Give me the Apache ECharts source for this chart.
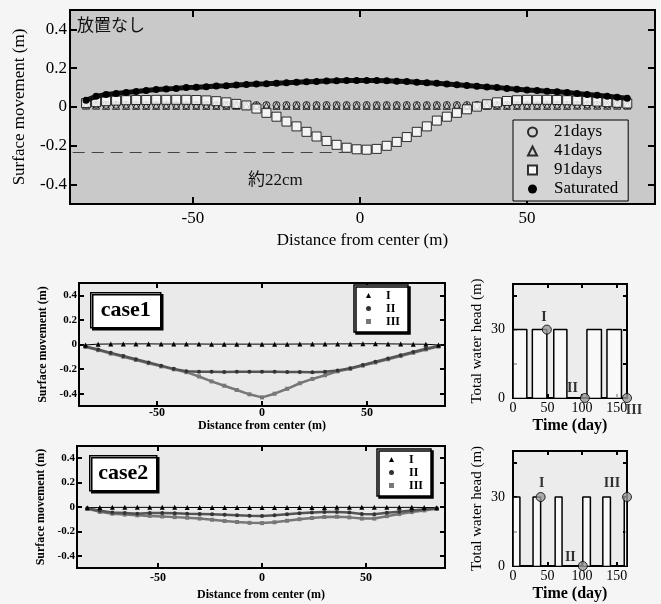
<!DOCTYPE html>
<html>
<head>
<meta charset="utf-8">
<title>Surface movement</title>
<script src="https://cdn.jsdelivr.net/npm/echarts@6/dist/echarts.min.js"></script>
<style>
html, body { margin: 0; padding: 0; background: #f5f5f5; }
#main { width: 661px; height: 604px; }
</style>
</head>
<body>
<div id="main"></div>
<script>
// ---- top panel (放置なし) : distance from center (m) / surface movement (m)
var distTop = [-82,-79,-76,-73,-70,-67,-64,-61,-58,-55,-52,
  -49,-46,-43,-40,-37,-34,-31,-28,-25,-22,-19,
  -16,-13,-10,-7,-4,-1,2,5,8,11,14,
  17,20,23,26,29,32,35,38,41,44,47,
  50,53,56,59,62,65,68,71,74,77,80];
var days21 = [0.012,0.012,0.011,0.011,0.011,0.010,0.010,0.010,0.010,0.010,0.010,
  0.010,0.010,0.010,0.010,0.010,0.010,0.010,0.010,0.010,0.010,0.010,
  0.010,0.010,0.010,0.010,0.010,0.010,0.010,0.010,0.010,0.010,0.010,
  0.010,0.010,0.010,0.010,0.010,0.010,0.010,0.010,0.010,0.010,0.010,
  0.010,0.010,0.011,0.011,0.011,0.011,0.012,0.012,0.012,0.012,0.012];
var days41 = [0.007,0.007,0.006,0.006,0.006,0.006,0.006,0.006,0.006,0.006,0.006,
  0.006,0.006,0.006,0.006,0.006,0.006,0.006,0.006,0.006,0.006,0.006,
  0.006,0.006,0.006,0.006,0.006,0.006,0.006,0.006,0.006,0.006,0.006,
  0.006,0.006,0.006,0.006,0.006,0.006,0.006,0.006,0.006,0.006,0.006,
  0.006,0.006,0.006,0.006,0.006,0.007,0.007,0.007,0.007,0.007,0.007];
var days91 = [0.020,0.025,0.030,0.033,0.035,0.036,0.036,0.037,0.037,0.037,0.037,
  0.036,0.034,0.030,0.024,0.016,0.008,-0.008,-0.030,-0.050,-0.075,-0.100,
  -0.128,-0.152,-0.175,-0.195,-0.210,-0.218,-0.220,-0.216,-0.200,-0.180,-0.155,
  -0.128,-0.100,-0.070,-0.050,-0.030,-0.012,0.002,0.014,0.024,0.031,0.035,
  0.037,0.037,0.037,0.036,0.035,0.033,0.031,0.028,0.025,0.022,0.018];
var saturated = [0.035,0.055,0.065,0.070,0.075,0.080,0.085,0.090,0.093,0.096,0.100,
  0.102,0.105,0.108,0.110,0.113,0.116,0.118,0.120,0.123,0.125,0.128,
  0.130,0.132,0.134,0.135,0.136,0.137,0.137,0.136,0.135,0.133,0.131,
  0.128,0.125,0.122,0.119,0.115,0.111,0.107,0.103,0.100,0.096,0.092,
  0.088,0.085,0.081,0.078,0.075,0.070,0.065,0.060,0.055,0.050,0.045];
var settleLevel = -0.235;   // 約22cm dashed line
var settleFrom = -86, settleTo = -3;

// ---- case1 / case2 panels
var distCase = [-84,-78,-72,-66,-60,-54,-48,-42,-36,-30,-24,-18,-12,-6,0,
  6,12,18,24,30,36,42,48,54,60,66,72,78,84];
var case1I = [-0.004,0.003,0.004,0.005,0.005,0.005,0.004,0.004,0.004,0.004,0.003,0.003,0.003,0.003,0.003,
  0.003,0.003,0.004,0.004,0.004,0.005,0.005,0.006,0.006,0.005,0.004,0.003,0.002,-0.004];
var case1II = [-0.015,-0.040,-0.068,-0.094,-0.120,-0.146,-0.172,-0.198,-0.218,-0.222,-0.222,-0.223,-0.222,-0.222,-0.222,
  -0.222,-0.223,-0.224,-0.225,-0.222,-0.212,-0.193,-0.167,-0.140,-0.114,-0.088,-0.061,-0.035,-0.012];
var case1III = [-0.020,-0.046,-0.074,-0.100,-0.126,-0.152,-0.178,-0.202,-0.225,-0.260,-0.300,-0.335,-0.370,-0.405,-0.430,
  -0.400,-0.360,-0.315,-0.280,-0.250,-0.218,-0.198,-0.172,-0.146,-0.120,-0.094,-0.067,-0.040,-0.017];
var case2I = [-0.006,-0.004,-0.003,-0.003,-0.003,-0.003,-0.003,-0.003,-0.004,-0.004,-0.004,-0.004,-0.004,-0.004,-0.004,
  -0.004,-0.004,-0.004,-0.004,-0.004,-0.003,-0.003,-0.003,-0.003,-0.003,-0.003,-0.003,-0.004,-0.006];
var case2II = [-0.010,-0.030,-0.045,-0.050,-0.055,-0.050,-0.050,-0.052,-0.055,-0.057,-0.060,-0.064,-0.068,-0.072,-0.073,
  -0.068,-0.060,-0.052,-0.046,-0.042,-0.040,-0.045,-0.058,-0.060,-0.048,-0.038,-0.028,-0.018,-0.010];
var case2III = [-0.015,-0.040,-0.055,-0.062,-0.068,-0.073,-0.078,-0.083,-0.088,-0.095,-0.105,-0.115,-0.123,-0.130,-0.132,
  -0.125,-0.113,-0.100,-0.090,-0.082,-0.080,-0.085,-0.095,-0.095,-0.075,-0.058,-0.042,-0.028,-0.015];

// ---- water head schedules (day ranges with 30 m head)
var headOn = 30;
var case1Periods = [[0,20],[28,49],[59,78],[107,128],[136,157]];
var case2Periods = [[0,10],[29,40],[61,71],[101,112],[130,141],[161,165]];
var case1Points = [[49,30,'I'],[104,0,'II'],[165,0,'III']];
var case2Points = [[40,30,'I'],[101,0,'II'],[165,30,'III']];

// ---- tick values
var distTicks = [-50,0,50];
var moveTicks = [-0.4,-0.2,0,0.2,0.4];
var timeLabels = [0,50,100,150];
var timeTicks = [50,100,150];
var headLabels = [0,30];
var headTicks = [15,30,45];

var serif = '"Liberation Serif", "DejaVu Serif", serif';
var jp = '"Noto Sans CJK JP", sans-serif';

function pairs(xs, ys) {
  return xs.map(function (x, i) { return [x, ys[i]]; });
}
function headLine(periods) {
  var d = [];
  periods.forEach(function (p) {
    d.push([p[0], 0], [p[0], headOn], [p[1], headOn], [p[1], 0]);
  });
  return d;
}

function mainAxis(dir, grid, min, max, o) {
  return {
    type: 'value', gridIndex: grid, min: min, max: max,
    position: dir === 'x' ? 'bottom' : 'left',
    name: o.name, nameLocation: 'middle', nameGap: o.nameGap,
    nameTextStyle: { fontFamily: serif, fontSize: o.nameSize, fontWeight: o.nameWeight || 'normal', color: '#000' },
    axisLine: { show: false, onZero: false },
    axisTick: { show: true, inside: true, length: o.tickLen, customValues: o.ticks, lineStyle: { color: '#000', width: 2 } },
    axisLabel: { customValues: o.labels, margin: o.margin, fontFamily: serif, fontSize: o.size,
      fontWeight: o.weight || 'normal', color: '#000' },
    splitLine: { show: false }
  };
}
function mirrorAxis(dir, grid, min, max, ticks, len) {
  return {
    type: 'value', gridIndex: grid, min: min, max: max,
    position: dir === 'x' ? 'top' : 'right',
    axisLine: { show: false, onZero: false }, axisLabel: { show: false }, splitLine: { show: false },
    axisTick: { show: true, inside: true, length: len, customValues: ticks, lineStyle: { color: '#000', width: 2 } }
  };
}

function pointSeries(points, axis, places) {
  return {
    type: 'scatter', xAxisIndex: axis, yAxisIndex: axis, clip: false, z: 5,
    symbol: 'circle', symbolSize: 9,
    itemStyle: { color: '#9a9a9a', borderColor: '#000', borderWidth: 1 },
    data: points.map(function (p, i) {
      return {
        value: [p[0], p[1]],
        label: {
          show: true, formatter: p[2], position: places[i].pos, offset: places[i].off, distance: 2,
          fontFamily: serif, fontSize: 14, fontWeight: 'bold', color: '#000'
        }
      };
    })
  };
}

var chart = echarts.init(document.getElementById('main'));

var option = {
  backgroundColor: '#f5f5f5',
  animation: false,
  grid: [
    { left: 70, top: 10, width: 585, height: 194, show: true, backgroundColor: '#c9c9c9', borderColor: '#000', borderWidth: 2 },
    { left: 79, top: 283, width: 366, height: 123, show: true, backgroundColor: '#eaeaea', borderColor: '#000', borderWidth: 2 },
    { left: 513, top: 284, width: 114, height: 114, show: true, backgroundColor: '#ececec', borderColor: '#000', borderWidth: 2 },
    { left: 77, top: 446, width: 368, height: 122, show: true, backgroundColor: '#eaeaea', borderColor: '#000', borderWidth: 2 },
    { left: 513, top: 451, width: 114, height: 115, show: true, backgroundColor: '#ececec', borderColor: '#000', borderWidth: 2 }
  ],
  xAxis: [
    mainAxis('x', 0, -86.8, 88.3, { name: 'Distance from center (m)', nameGap: 28, nameSize: 17,
      ticks: distTicks, labels: distTicks, tickLen: 7, margin: 6, size: 17 }),
    mirrorAxis('x', 0, -86.8, 88.3, distTicks, 7),
    mainAxis('x', 1, -87.1, 87.1, { name: 'Distance from center (m)', nameGap: 13, nameSize: 12, nameWeight: 'bold',
      ticks: distTicks, labels: distTicks, tickLen: 5, margin: 1, size: 12, weight: 'bold' }),
    mirrorAxis('x', 1, -87.1, 87.1, distTicks, 5),
    mainAxis('x', 2, 0, 165, { name: 'Time (day)', nameGap: 20, nameSize: 16, nameWeight: 'bold',
      ticks: timeTicks, labels: timeLabels, tickLen: 4, margin: 3, size: 14 }),
    mirrorAxis('x', 2, 0, 165, timeTicks, 4),
    mainAxis('x', 3, -89, 88, { name: 'Distance from center (m)', nameGap: 21, nameSize: 12, nameWeight: 'bold',
      ticks: distTicks, labels: distTicks, tickLen: 5, margin: 4, size: 12, weight: 'bold' }),
    mirrorAxis('x', 3, -89, 88, distTicks, 5),
    mainAxis('x', 4, 0, 165, { name: 'Time (day)', nameGap: 20, nameSize: 16, nameWeight: 'bold',
      ticks: timeTicks, labels: timeLabels, tickLen: 4, margin: 3, size: 14 }),
    mirrorAxis('x', 4, 0, 165, timeTicks, 4)
  ],
  yAxis: [
    mainAxis('y', 0, -0.5, 0.5, { name: 'Surface movement (m)', nameGap: 42, nameSize: 17,
      ticks: moveTicks, labels: moveTicks, tickLen: 7, margin: 3, size: 17 }),
    mirrorAxis('y', 0, -0.5, 0.5, moveTicks, 7),
    mainAxis('y', 1, -0.5, 0.5, { name: 'Surface movement (m)', nameGap: 27, nameSize: 12, nameWeight: 'bold',
      ticks: moveTicks, labels: moveTicks, tickLen: 5, margin: 2, size: 11, weight: 'bold' }),
    mirrorAxis('y', 1, -0.5, 0.5, moveTicks, 5),
    mainAxis('y', 2, 0, 50, { name: 'Total water head (m)', nameGap: 28, nameSize: 15,
      ticks: headTicks, labels: headLabels, tickLen: 4, margin: 8, size: 14 }),
    mirrorAxis('y', 2, 0, 50, headTicks, 4),
    mainAxis('y', 3, -0.5, 0.5, { name: 'Surface movement (m)', nameGap: 27, nameSize: 12, nameWeight: 'bold',
      ticks: moveTicks, labels: moveTicks, tickLen: 5, margin: 2, size: 11, weight: 'bold' }),
    mirrorAxis('y', 3, -0.5, 0.5, moveTicks, 5),
    mainAxis('y', 4, 0, 50, { name: 'Total water head (m)', nameGap: 28, nameSize: 15,
      ticks: headTicks, labels: headLabels, tickLen: 4, margin: 8, size: 14 }),
    mirrorAxis('y', 4, 0, 50, headTicks, 4)
  ],
  legend: [
    {
      orient: 'vertical', left: 513, top: 120, padding: [3, 10, 3, 14], itemGap: 1,
      itemWidth: 9, itemHeight: 9, backgroundColor: '#d4d4d4', borderColor: '#000', borderWidth: 1,
      textStyle: { fontFamily: serif, fontSize: 17, color: '#000', lineHeight: 18, padding: [0, 0, 0, 12] },
      data: ['21days', '41days', '91days', { name: 'Saturated', icon: 'circle' }]
    },
    {
      orient: 'vertical', left: 354, top: 285, padding: [4, 8, 4, 12], itemGap: 0,
      itemWidth: 5, itemHeight: 5, backgroundColor: '#fff', borderColor: '#000', borderWidth: 1.5,
      shadowColor: '#000', shadowOffsetX: 2, shadowOffsetY: 2, shadowBlur: 0.1,
      textStyle: { fontFamily: serif, fontSize: 12, fontWeight: 'bold', color: '#000', lineHeight: 13, padding: [0, 0, 0, 10] },
      data: [{ name: 'I', icon: 'triangle' }, { name: 'II', icon: 'circle' }, { name: 'III', icon: 'rect' }]
    },
    {
      orient: 'vertical', left: 377, top: 449, padding: [4, 8, 4, 12], itemGap: 0,
      itemWidth: 5, itemHeight: 5, backgroundColor: '#fff', borderColor: '#000', borderWidth: 1.5,
      shadowColor: '#000', shadowOffsetX: 2, shadowOffsetY: 2, shadowBlur: 0.1,
      textStyle: { fontFamily: serif, fontSize: 12, fontWeight: 'bold', color: '#000', lineHeight: 13, padding: [0, 0, 0, 10] },
      data: [{ name: 'I', icon: 'triangle' }, { name: 'II', icon: 'circle' }, { name: 'III', icon: 'rect' }]
    }
  ],
  graphic: [
    { type: 'text', left: 77, top: 16, style: { text: '放置なし', font: '17px ' + jp, fill: '#111' } },
    { type: 'text', left: 248, top: 172, style: { text: '約22cm', font: '17px ' + serif + ', ' + jp, fill: '#111' } },
    {
      type: 'group', left: 90, top: 292, children: [
        { type: 'rect', shape: { x: 0, y: 0, width: 70, height: 35 },
          style: { fill: '#fff', stroke: '#000', lineWidth: 1.5, shadowColor: '#000', shadowOffsetX: 2, shadowOffsetY: 2, shadowBlur: 0.1 } },
        { type: 'text', x: 35, y: 18, style: { text: 'case1', font: 'bold 22px ' + serif, fill: '#000', align: 'center', verticalAlign: 'middle' } }
      ]
    },
    {
      type: 'group', left: 89, top: 455, children: [
        { type: 'rect', shape: { x: 0, y: 0, width: 67, height: 35 },
          style: { fill: '#fff', stroke: '#000', lineWidth: 1.5, shadowColor: '#000', shadowOffsetX: 2, shadowOffsetY: 2, shadowBlur: 0.1 } },
        { type: 'text', x: 33.5, y: 18, style: { text: 'case2', font: 'bold 22px ' + serif, fill: '#000', align: 'center', verticalAlign: 'middle' } }
      ]
    }
  ],
  series: [
    // top panel
    { name: '21days', type: 'scatter', xAxisIndex: 0, yAxisIndex: 0, symbol: 'circle', symbolSize: 7,
      itemStyle: { color: 'rgba(0,0,0,0)', borderColor: '#000', borderWidth: 1 }, data: pairs(distTop, days21) },
    { name: '41days', type: 'scatter', xAxisIndex: 0, yAxisIndex: 0, symbol: 'triangle', symbolSize: 7,
      itemStyle: { color: 'rgba(0,0,0,0)', borderColor: '#000', borderWidth: 1 }, data: pairs(distTop, days41) },
    { name: '91days', type: 'scatter', xAxisIndex: 0, yAxisIndex: 0, symbol: 'rect', symbolSize: 9,
      itemStyle: { color: '#fff', borderColor: '#000', borderWidth: 1 }, data: pairs(distTop, days91),
      markLine: { silent: true, symbol: 'none', label: { show: false },
        lineStyle: { type: [12, 7], color: '#444', width: 1 },
        data: [[{ coord: [settleFrom, settleLevel] }, { coord: [settleTo, settleLevel] }]] } },
    { name: 'Saturated', type: 'line', xAxisIndex: 0, yAxisIndex: 0, symbol: 'circle', symbolSize: 7,
      itemStyle: { color: '#000' }, lineStyle: { color: '#111', width: 5 }, data: pairs(distTop, saturated) },

    // case1
    { name: 'III', type: 'line', xAxisIndex: 2, yAxisIndex: 2, symbol: 'rect', symbolSize: 4,
      itemStyle: { color: '#777' }, lineStyle: { color: '#777', width: 2.5 }, data: pairs(distCase, case1III) },
    { name: 'II', type: 'line', xAxisIndex: 2, yAxisIndex: 2, symbol: 'circle', symbolSize: 4,
      itemStyle: { color: '#333' }, lineStyle: { color: '#555', width: 2.5 }, data: pairs(distCase, case1II) },
    { name: 'I', type: 'line', xAxisIndex: 2, yAxisIndex: 2, symbol: 'triangle', symbolSize: 5,
      itemStyle: { color: '#000' }, lineStyle: { color: '#000', width: 1 }, data: pairs(distCase, case1I) },

    // case2
    { name: 'III', type: 'line', xAxisIndex: 6, yAxisIndex: 6, symbol: 'rect', symbolSize: 4,
      itemStyle: { color: '#777' }, lineStyle: { color: '#777', width: 2.5 }, data: pairs(distCase, case2III) },
    { name: 'II', type: 'line', xAxisIndex: 6, yAxisIndex: 6, symbol: 'circle', symbolSize: 4,
      itemStyle: { color: '#333' }, lineStyle: { color: '#555', width: 2.5 }, data: pairs(distCase, case2II) },
    { name: 'I', type: 'line', xAxisIndex: 6, yAxisIndex: 6, symbol: 'triangle', symbolSize: 5,
      itemStyle: { color: '#000' }, lineStyle: { color: '#000', width: 1 }, data: pairs(distCase, case2I) },

    // water head schedules
    { type: 'line', xAxisIndex: 4, yAxisIndex: 4, symbol: 'none', silent: true,
      lineStyle: { color: '#000', width: 1.5 }, areaStyle: { color: '#fff', opacity: 0.7 }, data: headLine(case1Periods) },
    pointSeries(case1Points, 4, [
      { pos: 'top', off: [-3, 2] }, { pos: 'left', off: [0, -10] }, { pos: 'bottom', off: [7, -2] }
    ]),
    { type: 'line', xAxisIndex: 8, yAxisIndex: 8, symbol: 'none', silent: true,
      lineStyle: { color: '#000', width: 1.5 }, areaStyle: { color: '#fff', opacity: 0.7 }, data: headLine(case2Periods) },
    pointSeries(case2Points, 8, [
      { pos: 'top', off: [1, 0] }, { pos: 'left', off: [0, -9] }, { pos: 'top', off: [-15, 0] }
    ])
  ]
};

chart.setOption(option);
</script>
</body>
</html>
